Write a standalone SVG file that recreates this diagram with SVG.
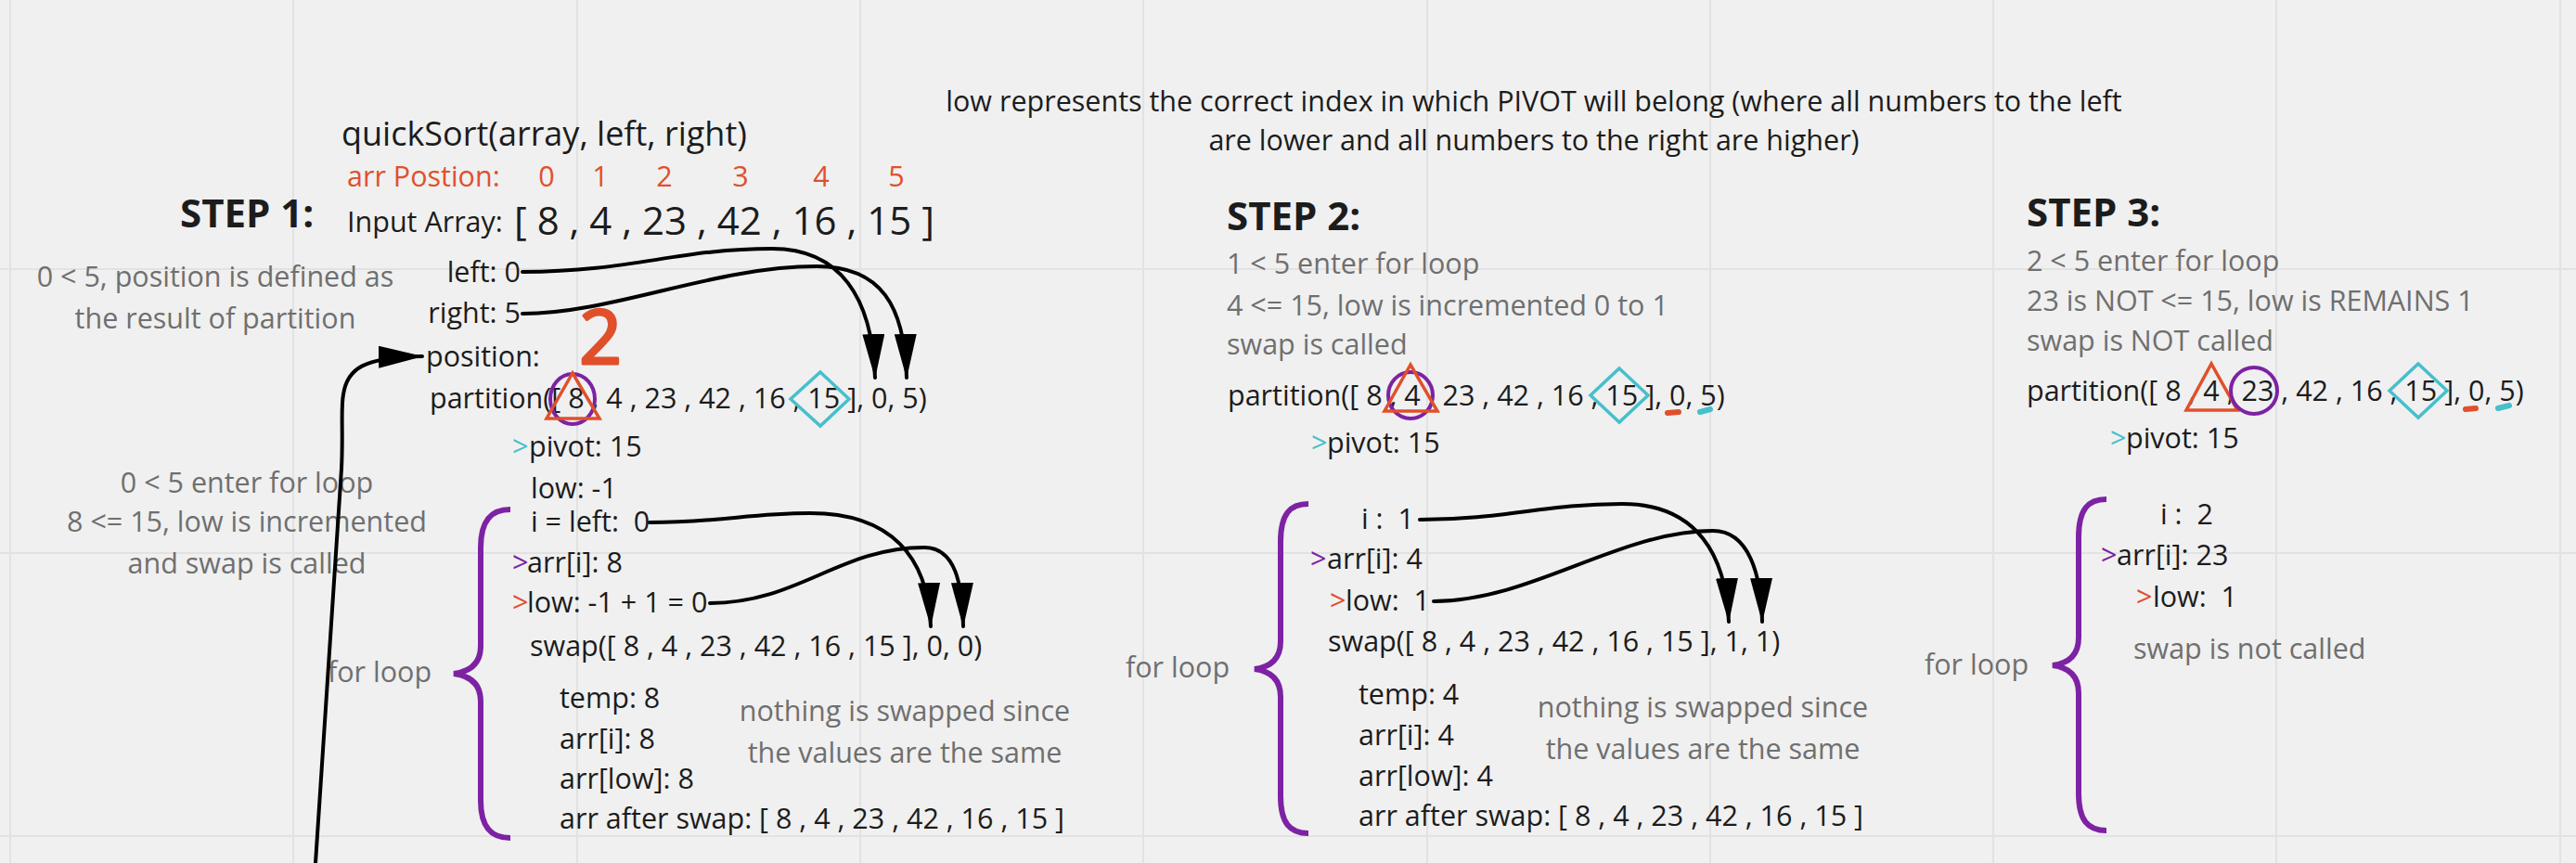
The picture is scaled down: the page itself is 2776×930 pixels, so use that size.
<svg xmlns="http://www.w3.org/2000/svg" width="2776" height="930" viewBox="0 0 2776 930">
<defs>
<style>
text{font-family:"Open Sans","Noto Sans","DejaVu Sans",sans-serif;font-size:30.5px;fill:#1c1c1c;white-space:pre}
.big{font-size:36px}
.arr{font-size:42px}
.step{font-size:42px;font-weight:700}
.g{fill:#6f6f6f}
.c{text-anchor:middle}
.e{text-anchor:end}
.red{fill:#e0502b}
.teal{fill:#47bfcc}
.pur{fill:#7d22a3}
.hand{font-size:80px;stroke:#e0502b;stroke-width:3;stroke-linejoin:round}
.grid{stroke:#e2e2e2;stroke-width:2}
.con{fill:none;stroke:#000;stroke-width:4;stroke-linecap:round}
.brace{fill:none;stroke:#7d22a3;stroke-width:6}
.circ{fill:none;stroke:#7d22a3;stroke-width:4}
.tri{fill:none;stroke:#e0502b;stroke-width:3.5;stroke-linejoin:miter}
.dia{fill:none;stroke:#47bfcc;stroke-width:3.5}
.rdash{stroke:#e0502b;stroke-width:6;stroke-linecap:round}
.tdash{stroke:#47bfcc;stroke-width:6;stroke-linecap:round}
</style>
<marker id="ah" markerUnits="userSpaceOnUse" markerWidth="50" markerHeight="26" refX="47" refY="12" orient="auto">
<path d="M0,0 L48,12 L0,24 z" fill="#000"/>
</marker>
</defs>
<rect width="2776" height="930" fill="#f0f0f0"/>
<g id="grid">
<line class="grid" x1="11" y1="0" x2="11" y2="930"/>
<line class="grid" x1="316" y1="0" x2="316" y2="930"/>
<line class="grid" x1="622" y1="0" x2="622" y2="930"/>
<line class="grid" x1="927" y1="0" x2="927" y2="930"/>
<line class="grid" x1="1232" y1="0" x2="1232" y2="930"/>
<line class="grid" x1="1538" y1="0" x2="1538" y2="930"/>
<line class="grid" x1="1843" y1="0" x2="1843" y2="930"/>
<line class="grid" x1="2148" y1="0" x2="2148" y2="930"/>
<line class="grid" x1="2453" y1="0" x2="2453" y2="930"/>
<line class="grid" x1="2759" y1="0" x2="2759" y2="930"/>
<line class="grid" x1="0" y1="290" x2="2776" y2="290"/>
<line class="grid" x1="0" y1="596" x2="2776" y2="596"/>
<line class="grid" x1="0" y1="901" x2="2776" y2="901"/>
</g>

<g id="note">
<text class="c" x="1653" y="120">low represents the correct index in which PIVOT will belong (where all numbers to the left</text>
<text class="c" x="1653" y="162">are lower and all numbers to the right are higher)</text>
</g>

<g id="step1-header">
<text class="big" x="368" y="157">quickSort(array, left, right)</text>
<text class="red" x="374" y="201">arr Postion:</text>
<text class="red c" x="589" y="201">0</text>
<text class="red c" x="647" y="201">1</text>
<text class="red c" x="716" y="201">2</text>
<text class="red c" x="798" y="201">3</text>
<text class="red c" x="885" y="201">4</text>
<text class="red c" x="966" y="201">5</text>
<text class="step" x="194" y="245">STEP 1:</text>
<text x="374" y="250">Input Array:</text>
<text class="arr" x="554" y="253">[ 8 , 4 , 23 , 42 , 16 , 15 ]</text>
</g>

<g id="step1-call">
<text class="e" x="561" y="304">left: 0</text>
<text class="e" x="561" y="348">right: 5</text>
<text class="g c" x="232" y="309">0 &lt; 5, position is defined as</text>
<text class="g c" x="232" y="354">the result of partition</text>
<text x="459" y="395">position:</text>
<text class="red c hand" x="647" y="392">2</text>
<text x="463" y="440">partition([ 8 , 4 , 23 , 42 , 16 , 15 ], 0, 5)</text>
<ellipse class="circ" cx="617" cy="430" rx="24" ry="27"/>
<polygon class="tri" points="617,402 589,451 646,451"/>
<polygon class="dia" points="884,401 915,430 884,459 852,430"/>
<text class="teal" x="552" y="492">&gt;</text><text x="570" y="492">pivot: 15</text>
<text x="572" y="537">low: -1</text>
</g>

<g id="step1-loop">
<text class="g c" x="266" y="531">0 &lt; 5 enter for loop</text>
<text class="g c" x="266" y="573">8 &lt;= 15, low is incremented</text>
<text class="g c" x="266" y="618">and swap is called</text>
<path class="brace" d="M550,549 C530,549 518,560 518,590 L518,696 C518,716 505,724 489,726 C505,728 518,736 518,756 L518,863 C518,892 530,903 550,903"/>
<text class="g" x="353" y="735">for loop</text>
<text x="572" y="573">i = left:  0</text>
<text class="pur" x="552" y="617">&gt;</text><text x="568" y="617">arr[i]: 8</text>
<text class="red" x="552" y="660">&gt;</text><text x="568" y="660">low: -1 + 1 = 0</text>
<text x="571" y="707">swap([ 8 , 4 , 23 , 42 , 16 , 15 ], 0, 0)</text>
<text x="603" y="763">temp: 8</text>
<text x="603" y="807">arr[i]: 8</text>
<text x="603" y="850">arr[low]: 8</text>
<text x="603" y="893">arr after swap: [ 8 , 4 , 23 , 42 , 16 , 15 ]</text>
<text class="g c" x="975" y="777">nothing is swapped since</text>
<text class="g c" x="975" y="822">the values are the same</text>
</g>

<g id="step2">
<text class="step" x="1322" y="248">STEP 2:</text>
<text class="g" x="1322" y="295">1 &lt; 5 enter for loop</text>
<text class="g" x="1322" y="340">4 &lt;= 15, low is incremented 0 to 1</text>
<text class="g" x="1322" y="382">swap is called</text>
<text x="1323" y="437">partition([ 8 , 4 , 23 , 42 , 16 , 15 ], 0, 5)</text>
<ellipse class="circ" cx="1520" cy="426" rx="24" ry="25"/>
<polygon class="tri" points="1520,393 1492,443 1549,443"/>
<polygon class="dia" points="1745,397 1776,426 1745,455 1714,426"/>
<line class="rdash" x1="1797" y1="445" x2="1809" y2="444"/>
<line class="tdash" x1="1832" y1="444" x2="1843" y2="441"/>
<text class="teal" x="1413" y="488">&gt;</text><text x="1430" y="488">pivot: 15</text>
<path class="brace" d="M1410,543 C1390,543 1380,554 1380,584 L1380,691 C1380,711 1368,719 1352,721 C1368,723 1380,731 1380,751 L1380,858 C1380,887 1390,898 1410,898"/>
<text class="g" x="1213" y="730">for loop</text>
<text x="1467" y="570">i :  1</text>
<text class="pur" x="1412" y="613">&gt;</text><text x="1430" y="613">arr[i]: 4</text>
<text class="red" x="1433" y="658">&gt;</text><text x="1450" y="658">low:  1</text>
<text x="1431" y="702">swap([ 8 , 4 , 23 , 42 , 16 , 15 ], 1, 1)</text>
<text x="1464" y="759">temp: 4</text>
<text x="1464" y="803">arr[i]: 4</text>
<text x="1464" y="847">arr[low]: 4</text>
<text x="1464" y="890">arr after swap: [ 8 , 4 , 23 , 42 , 16 , 15 ]</text>
<text class="g c" x="1835" y="773">nothing is swapped since</text>
<text class="g c" x="1835" y="818">the values are the same</text>
</g>

<g id="step3">
<text class="step" x="2184" y="244">STEP 3:</text>
<text class="g" x="2184" y="292">2 &lt; 5 enter for loop</text>
<text class="g" x="2184" y="335">23 is NOT &lt;= 15, low is REMAINS 1</text>
<text class="g" x="2184" y="378">swap is NOT called</text>
<text x="2184" y="432">partition([ 8 , 4 , 23 , 42 , 16 , 15 ], 0, 5)</text>
<polygon class="tri" points="2383,392 2356,442 2411,442"/>
<ellipse class="circ" cx="2429" cy="421" rx="25" ry="25"/>
<polygon class="dia" points="2606,392 2637,421 2606,450 2575,421"/>
<line class="rdash" x1="2657" y1="441" x2="2668" y2="440"/>
<line class="tdash" x1="2692" y1="440" x2="2704" y2="437"/>
<text class="teal" x="2274" y="483">&gt;</text><text x="2291" y="483">pivot: 15</text>
<path class="brace" d="M2270,538 C2250,538 2240,549 2240,579 L2240,687 C2240,707 2228,715 2212,717 C2228,719 2240,727 2240,747 L2240,855 C2240,884 2250,895 2270,895"/>
<text class="g" x="2074" y="727">for loop</text>
<text x="2328" y="565">i :  2</text>
<text class="pur" x="2264" y="609">&gt;</text><text x="2281" y="609">arr[i]: 23</text>
<text class="red" x="2302" y="654">&gt;</text><text x="2320" y="654">low:  1</text>
<text class="g" x="2299" y="710">swap is not called</text>
</g>

<g id="connectors">
<path class="con" marker-end="url(#ah)" d="M340,930 L368,505 C370,465 367,440 370,425 C374,397 392,385 455,384"/>
<path class="con" marker-end="url(#ah)" d="M563,293 C680,293 730,268 832,268 C905,268 940,320 943,407"/>
<path class="con" marker-end="url(#ah)" d="M563,338 C660,338 770,287 880,287 C950,287 975,330 977,407"/>
<path class="con" marker-end="url(#ah)" d="M700,563 C780,563 805,553 873,553 C960,553 1000,600 1003,675"/>
<path class="con" marker-end="url(#ah)" d="M765,650 C860,650 905,590 996,590 C1030,590 1037,630 1038,675"/>
<path class="con" marker-end="url(#ah)" d="M1530,560 C1620,560 1665,543 1748,543 C1830,543 1860,600 1863,670"/>
<path class="con" marker-end="url(#ah)" d="M1545,648 C1650,648 1745,572 1846,572 C1885,572 1898,620 1899,670"/>
</g>
</svg>
